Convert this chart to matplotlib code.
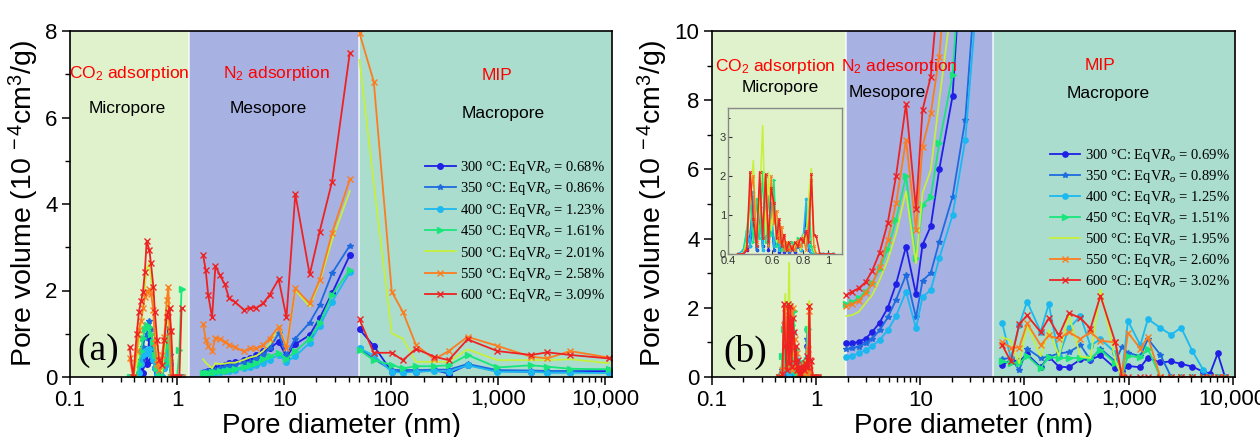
import matplotlib
matplotlib.use('Agg')
import matplotlib.pyplot as plt
from matplotlib.ticker import FixedLocator, FixedFormatter, NullFormatter, MultipleLocator, LogLocator

plt.rcParams['font.family'] = ['Liberation Sans', 'DejaVu Sans']
plt.rcParams['mathtext.fontset'] = 'custom'
plt.rcParams['mathtext.rm'] = 'Liberation Sans'
plt.rcParams['mathtext.it'] = 'Liberation Serif:italic'
plt.rcParams['mathtext.bf'] = 'Liberation Sans:bold'

# ---------------- series meta ----------------
temps = ['300', '350', '400', '450', '500', '550', '600']
ro_a = ['0.68', '0.86', '1.23', '1.61', '2.01', '2.58', '3.09']
ro_b = ['0.69', '0.89', '1.25', '1.51', '1.95', '2.60', '3.02']
colors = ['#1f1fe6', '#1e6be0', '#1cb8f0', '#19e67a', '#c6f03c', '#fb7d1f', '#ee2222']
markers = ['o', '*', 'o', '>', '', 'x', 'x']

# ---------------- panel (a) data ----------------
a_mic_x = [0.36, 0.39, 0.42, 0.44, 0.46, 0.48, 0.50, 0.52, 0.55, 0.57, 0.60, 0.62, 0.65,
           0.68, 0.72, 0.76, 0.80, 0.83, 0.85, 0.88, 0.92, 0.96, 1.00, 1.05, 1.10]
a_mic_300 = [0, 0, 0, 0.05, 0.25, 0.10, 0.60, 0.30, 0.90, 0.40, 0.70, 0.20, 0.10, 0, 0, 0.20, 0.90, 1.10, 0.30, 0, 0, 0, 0, 0, 0]
a_mic_350 = [0, 0, 0, 0.10, 0.40, 0.70, 0.90, 1.00, 1.30, 1.10, 0.70, 0.40, 0.10, 0, 0, 0.30, 0.80, 1.00, 0.50, 0, 0, 0, 0, 0, 0]
a_mic_400 = [0, 0, 0, 0.10, 0.30, 0.50, 0.60, 0.55, 0.65, 0.50, 0.40, 0.20, 0.05, 0, 0, 0.20, 0.40, 0.60, 0.30, 0, 0, 0, 0, 0, 0]
a_mic_450 = [0, 0, 0, 0.30, 0.60, 0.90, 1.10, 1.20, 1.15, 1.00, 0.80, 0.50, 0.20, 0.05, 0, 0.30, 0.70, 0.90, 0.40, 0, 0, 0, 0, 0.62, 2.03]
a_mic_500 = [0, 0, 0.30, 0.80, 1.20, 1.60, 2.10, 2.50, 2.63, 2.30, 1.70, 1.00, 0.50, 0.20, 0.10, 0.60, 1.20, 1.80, 0.90, 0, 0, 0, 0, 0, 0]
a_mic_550 = [0.43, 0, 0.60, 1.09, 1.30, 1.59, 1.85, 1.97, 2.03, 1.93, 1.55, 0.78, 0.31, 0.16, 0.50, 0.93, 1.78, 2.09, 1.07, 0, 0, 0, 0, 0, 0]
a_mic_600 = [0.70, 0, 1.00, 1.51, 1.75, 1.97, 2.43, 3.15, 2.94, 2.63, 2.09, 1.51, 0.86, 0.39, 0.28, 0.86, 1.39, 1.50, 1.59, 1.07, 0, 0, 0, 0, 1.59]

a_mes_x = [1.75, 1.85, 1.95, 2.12, 2.28, 2.50, 2.78, 3.06, 3.45, 4.22, 4.76, 5.50, 6.34, 7.31,
           8.87, 10.5, 12.7, 17.3, 21.4, 28.0, 41.0]
a_mes_300 = [0.10, 0.11, 0.13, 0.16, 0.20, 0.24, 0.28, 0.32, 0.35, 0.40, 0.43, 0.50, 0.59, 0.66, 0.82, 0.47, 0.76, 0.97, 1.36, 1.94, 2.82]
a_mes_350 = [0.12, 0.12, 0.13, 0.14, 0.17, 0.20, 0.24, 0.26, 0.28, 0.33, 0.35, 0.42, 0.51, 0.66, 1.01, 0.51, 0.89, 1.26, 1.66, 2.40, 3.04]
a_mes_400 = [0.08, 0.08, 0.08, 0.09, 0.10, 0.11, 0.13, 0.14, 0.16, 0.20, 0.23, 0.27, 0.33, 0.40, 0.51, 0.35, 0.48, 0.79, 1.18, 1.74, 2.42]
a_mes_450 = [0.10, 0.10, 0.10, 0.11, 0.12, 0.14, 0.15, 0.17, 0.19, 0.24, 0.28, 0.33, 0.41, 0.48, 0.56, 0.41, 0.59, 0.89, 1.24, 1.90, 2.48]
a_mes_500 = [0.41, 0.33, 0.28, 0.20, 0.32, 0.30, 0.31, 0.33, 0.33, 0.40, 0.45, 0.49, 0.60, 0.76, 1.18, 0.70, 2.01, 1.63, 2.20, 3.17, 4.30]
a_mes_550 = [1.23, 0.86, 0.72, 0.59, 0.91, 0.88, 0.82, 0.75, 0.69, 0.59, 0.66, 0.66, 0.74, 0.89, 1.16, 0.66, 2.05, 1.70, 2.24, 3.34, 4.57]
a_mes_600 = [2.82, 2.47, 1.90, 1.38, 2.57, 2.36, 2.15, 1.82, 1.74, 1.55, 1.60, 1.60, 1.70, 1.90, 2.26, 1.38, 4.23, 2.37, 3.36, 4.52, 7.50]

a_mac_x = [50.5, 68.6, 101, 128, 170, 252, 343, 515, 977, 2010, 2870, 4670, 10700]
a_mac_300 = [1.10, 0.72, 0.12, 0.14, 0.12, 0.16, 0.08, 0.28, 0.14, 0.12, 0.11, 0.11, 0.14]
a_mac_350 = [0.66, 0.42, 0.16, 0.17, 0.16, 0.17, 0.17, 0.30, 0.16, 0.15, 0.14, 0.14, 0.17]
a_mac_400 = [0.66, 0.50, 0.12, 0.10, 0.12, 0.14, 0.12, 0.27, 0.12, 0.12, 0.10, 0.10, 0.09]
a_mac_450 = [0.62, 0.39, 0.28, 0.20, 0.25, 0.25, 0.27, 0.51, 0.22, 0.27, 0.24, 0.19, 0.18]
a_mac_500 = [7.33, 4.48, 1.01, 0.89, 0.35, 0.35, 0.35, 0.64, 0.39, 0.39, 0.39, 0.41, 0.32]
a_mac_550 = [7.95, 6.83, 1.97, 1.51, 0.74, 0.41, 0.60, 0.93, 0.72, 0.47, 0.43, 0.60, 0.45]
a_mac_600 = [1.33, 0.56, 0.56, 0.39, 0.65, 0.47, 0.39, 0.87, 0.60, 0.51, 0.57, 0.51, 0.43]

# ---------------- panel (b) data ----------------
b_mic_x = [0.44, 0.46, 0.475, 0.49, 0.505, 0.52, 0.535, 0.55, 0.565, 0.58, 0.595, 0.61, 0.625, 0.64, 0.655, 0.67,
           0.685, 0.70, 0.72, 0.74, 0.76, 0.78, 0.80, 0.82, 0.84, 0.86, 0.88, 0.90, 0.93, 0.96, 1.00, 1.05]
b_mic_300 = [0, 0, 0.1, 0.2, 0.9, 0.1, 1.2, 0.2, 1.0, 0.1, 0.9, 0.1, 0.5, 0.05, 0.3, 0.05, 0.15, 0.05, 0.15, 0.05, 0.2, 0.1, 0.45, 0.9, 0.1, 0, 0, 0, 0, 0, 0, 0]
b_mic_350 = [0, 0, 0.2, 0.5, 1.5, 0.1, 1.0, 0.2, 1.5, 0.2, 1.1, 0.1, 0.6, 0.1, 0.4, 0.1, 0.2, 0.05, 0.2, 0.1, 0.2, 0.1, 0.4, 1.1, 0.1, 0, 0, 0, 0, 0, 0, 0]
b_mic_400 = [0, 0.1, 0.6, 0.2, 1.6, 0.2, 1.3, 0.1, 2.0, 0.3, 1.3, 0.2, 0.7, 0.1, 0.5, 0.1, 0.2, 0.1, 0.2, 0.1, 0.3, 0.1, 0.5, 1.4, 0.2, 0, 0, 0, 0, 0, 0, 0]
b_mic_450 = [0, 0, 0.6, 1.4, 0.3, 1.4, 0.4, 2.1, 0.3, 1.5, 0.5, 1.9, 0.2, 0.8, 0.1, 0.3, 0.1, 0.2, 0.3, 0.1, 0.4, 0.2, 0.3, 0.5, 1.4, 0.2, 0, 0, 0, 0, 0, 0]
b_mic_500 = [0, 0, 0.3, 1.5, 2.4, 0.2, 1.3, 3.3, 0.5, 2.1, 0.6, 1.2, 0.3, 0.9, 0.2, 0.4, 0.1, 0.3, 0.1, 0.2, 0.3, 0.1, 0.5, 0.3, 1.5, 2.2, 0.1, 0, 0, 0, 0, 0]
b_mic_550 = [0, 0, 0.2, 1.5, 2.0, 0.3, 1.8, 0.5, 2.0, 0.2, 2.0, 0.8, 1.1, 0.3, 0.7, 0.1, 0.3, 0.1, 0.2, 0.1, 0.35, 0.2, 0.4, 0.1, 0.8, 1.9, 0.2, 0, 0, 0, 0, 0]
b_mic_600 = [0, 0, 0.1, 2.1, 0.9, 0.2, 2.1, 0.4, 2.05, 0.3, 1.7, 1.3, 0.4, 0.9, 0.2, 0.5, 0.1, 0.3, 0.1, 0.3, 0.2, 0.4, 0.3, 0.6, 0.3, 2.05, 0.5, 0.45, 0, 0, 0, 0]

b_mes_x = [1.95, 2.22, 2.55, 2.98, 3.45, 4.06, 4.87, 5.85, 7.29, 9.09, 10.5, 12.6, 15.2, 20.4, 27.0, 35.0]
b_mes_300 = [0.97, 0.97, 1.02, 1.11, 1.30, 1.57, 2.00, 2.69, 3.77, 2.39, 3.82, 4.36, 6.00, 8.12, 14, 20]
b_mes_350 = [0.80, 0.83, 0.88, 0.97, 1.11, 1.35, 1.72, 2.23, 2.95, 1.72, 2.78, 3.01, 3.91, 5.21, 7.43, 12]
b_mes_400 = [0.59, 0.62, 0.68, 0.78, 0.89, 1.07, 1.35, 1.76, 2.47, 1.41, 2.32, 2.51, 3.43, 4.68, 6.85, 11]
b_mes_450 = [2.11, 2.17, 2.27, 2.47, 2.71, 3.11, 3.69, 4.54, 5.81, 3.43, 4.97, 5.21, 6.75, 8.73, 14, 20]
b_mes_500 = [1.76, 1.79, 1.88, 2.13, 2.37, 2.80, 3.38, 4.15, 5.36, 3.29, 5.32, 5.98, 8.00, 11, 16, 22]
b_mes_550 = [2.05, 2.11, 2.20, 2.42, 2.69, 3.19, 3.96, 5.02, 6.85, 4.25, 6.66, 7.62, 9.26, 14, 20, 27]
b_mes_600 = [2.37, 2.47, 2.56, 2.74, 3.07, 3.59, 4.46, 5.81, 7.89, 4.85, 7.72, 8.68, 11.5, 18, 25, 32]

b_mac_x = [61, 74, 89, 106, 143, 171, 214, 267, 345, 430, 536, 746, 863, 985, 1295, 1531,
           2010, 2560, 3190, 4090, 5220, 6050, 7160, 8420]
b_mac_300 = [0.35, 0.49, 0.45, 0.66, 0.28, 0.59, 0.30, 0.28, 0.51, 0.49, 0.63, 0.25, 0.18, 0.32, 0.28, 0.56, 0.42, 0.45, 0.38, 0.30, 0.15, 0.10, 0.68, 0]
b_mac_350 = [0.52, 0.55, 0.20, 0.82, 0.55, 0.59, 0.68, 0.72, 0.92, 0.49, 0.82, 0.45, 0.87, 0.70, 0.60, 1.10, 0.65, 0, 0, 0, 0, 0, 0, 0]
b_mac_400 = [1.57, 0.54, 1.50, 2.18, 1.31, 2.11, 0.60, 1.41, 1.76, 0.90, 1.10, 0.70, 0.10, 1.62, 0.92, 1.68, 1.42, 1.22, 1.43, 0.75, 0.20, 0, 0, 0]
b_mac_450 = [0.45, 0.40, 0.40, 0.61, 0.25, 0.59, 0.54, 0.56, 0.54, 0.54, 0.78, 0.40, 0.05, 0.61, 0.57, 0.82, 0, 0, 0, 0, 0, 0, 0, 0]
b_mac_500 = [1.15, 1.05, 0.40, 1.50, 0.60, 1.36, 0.61, 1.80, 0.59, 0.55, 2.53, 0.49, 0, 0, 0, 0, 0, 0, 0, 0, 0, 0, 0, 0]
b_mac_550 = [1.00, 0.85, 0.85, 1.55, 0.92, 1.20, 1.10, 1.30, 1.10, 1.30, 1.05, 1.00, 0.05, 1.28, 0.82, 1.16, 0, 0, 0, 0, 0, 0, 0, 0]
b_mac_600 = [0.93, 0.45, 1.53, 1.78, 1.30, 1.70, 1.20, 1.85, 1.70, 1.40, 2.35, 1.00, 0, 0, 0, 0, 0, 0, 0, 0, 0, 0, 0, 0]

a_mic = [a_mic_300, a_mic_350, a_mic_400, a_mic_450, a_mic_500, a_mic_550, a_mic_600]
a_mes = [a_mes_300, a_mes_350, a_mes_400, a_mes_450, a_mes_500, a_mes_550, a_mes_600]
a_mac = [a_mac_300, a_mac_350, a_mac_400, a_mac_450, a_mac_500, a_mac_550, a_mac_600]
b_mic = [b_mic_300, b_mic_350, b_mic_400, b_mic_450, b_mic_500, b_mic_550, b_mic_600]
b_mes = [b_mes_300, b_mes_350, b_mes_400, b_mes_450, b_mes_500, b_mes_550, b_mes_600]
b_mac = [b_mac_300, b_mac_350, b_mac_400, b_mac_450, b_mac_500, b_mac_550, b_mac_600]

xtick_vals = [0.1, 1, 10, 100, 1000, 10000]
xtick_lbls = ['0.1', '1', '10', '100', '1,000', '10,000']

C_MIC = '#dff2cc'
C_MES = '#a7b2e2'
C_MAC = '#aaddcd'

W, H = 1260, 437
fig = plt.figure(figsize=(W / 100, H / 100), dpi=100)
fig.patch.set_facecolor('white')


def px_axes(l, r, t, b):
    return fig.add_axes([l / W, 1 - b / H, (r - l) / W, (b - t) / H])


def style_main(ax, xmax, ymax, bnd1, bnd2):
    ax.set_xscale('log')
    ax.set_xlim(0.1, xmax)
    ax.set_ylim(0, ymax)
    ax.axvspan(0.1, bnd1, color=C_MIC, zorder=0, lw=0)
    ax.axvspan(bnd1, bnd2, color=C_MES, zorder=0, lw=0)
    ax.axvspan(bnd2, xmax, color=C_MAC, zorder=0, lw=0)
    ax.axvline(bnd1, color='white', lw=1.2, alpha=0.8, zorder=0.5)
    ax.axvline(bnd2, color='white', lw=1.2, alpha=0.8, zorder=0.5)
    ax.xaxis.set_major_locator(FixedLocator(xtick_vals))
    ax.xaxis.set_major_formatter(FixedFormatter(xtick_lbls))
    ax.xaxis.set_minor_locator(LogLocator(base=10, subs=range(2, 10), numticks=20))
    ax.xaxis.set_minor_formatter(NullFormatter())
    ax.yaxis.set_major_locator(MultipleLocator(2))
    ax.yaxis.set_minor_locator(MultipleLocator(1))
    ax.tick_params(which='major', direction='out', length=6, width=1.1, labelsize=16, pad=3)
    ax.tick_params(which='minor', direction='out', length=3.5, width=1.0)
    for s in ax.spines.values():
        s.set_linewidth(1.2)
    ax.set_xlabel('Pore diameter (nm)', fontsize=20, labelpad=2)
    ax.set_ylabel(r'Pore volume (10$^{\ -4}$cm$^{3}$/g)', fontsize=20.5, labelpad=4)


def plot_series(ax, segs, ro, lw=1.3, ms=4):
    handles = []
    for i in range(7):
        h = None
        for xs, ys_all in segs:
            ln, = ax.plot(xs, ys_all[i], color=colors[i], marker=markers[i] if markers[i] else None,
                          ms=ms, mew=1.0, lw=lw, zorder=2 + i * 0.01)
            if h is None:
                h = ln
        h.set_label(temps[i] + r' °C: EqV$R_o$ = ' + ro[i] + '%')
        handles.append(h)
    return handles

# ---------------- panel (a) ----------------
axA = px_axes(70, 612, 31, 377)
style_main(axA, 11500, 8, 1.29, 50)
hA = plot_series(axA, [(a_mic_x, a_mic), (a_mes_x, a_mes), (a_mac_x, a_mac)], ro_a)
legA = axA.legend(handles=hA, loc='upper left', bbox_to_anchor=(0.655, 0.63), frameon=False,
                  prop={'family': 'Liberation Serif', 'size': 10.5}, handlelength=2.1,
                  handletextpad=0.3, labelspacing=0.3, borderpad=0, borderaxespad=0)
tk = dict(transform=axA.transAxes, ha='center', va='center', fontsize=12.5)
axA.text(0.109, 0.876, r'CO$_2$ adsorption', color='red', **tk)
axA.text(0.105, 0.777, 'Micropore', color='black', **tk)
axA.text(0.380, 0.876, r'N$_2$ adsorption', color='red', **tk)
axA.text(0.365, 0.777, 'Mesopore', color='black', **tk)
axA.text(0.788, 0.870, 'MIP', color='red', **tk)
axA.text(0.799, 0.763, 'Macropore', color='black', **tk)
axA.text(0.052, 0.075, '(a)', transform=axA.transAxes, ha='center', va='center',
         fontsize=27, family='Liberation Serif')

# ---------------- panel (b) ----------------
axB = px_axes(712, 1235, 31, 377)
style_main(axB, 10500, 10, 1.93, 50)
hB = plot_series(axB, [(b_mic_x, b_mic), (b_mes_x, b_mes), (b_mac_x, b_mac)], ro_b, ms=3.8)
legB = axB.legend(handles=hB, loc='upper left', bbox_to_anchor=(0.646, 0.665), frameon=False,
                  prop={'family': 'Liberation Serif', 'size': 10.5}, handlelength=2.1,
                  handletextpad=0.3, labelspacing=0.28, borderpad=0, borderaxespad=0)
tk = dict(transform=axB.transAxes, ha='center', va='center', fontsize=12.5)
axB.text(0.120, 0.896, r'CO$_2$ adsorption', color='red', **tk)
axB.text(0.130, 0.838, 'Micropore', color='black', **tk)
axB.text(0.358, 0.896, r'N$_2$ adesorption', color='red', **tk)
axB.text(0.335, 0.821, 'Mesopore', color='black', **tk)
axB.text(0.742, 0.899, 'MIP', color='red', **tk)
axB.text(0.757, 0.818, 'Macropore', color='black', **tk)
axB.text(0.063, 0.072, '(b)', transform=axB.transAxes, ha='center', va='center',
         fontsize=27, family='Liberation Serif')

# ---------------- inset ----------------
axI = px_axes(728, 842, 108, 254)
axI.set_facecolor(C_MIC)
axI.set_xscale('log')
axI.set_xlim(0.4, 1.14)
axI.set_ylim(0, 3.75)
for i in range(7):
    axI.plot(b_mic_x, b_mic[i], color=colors[i], marker=markers[i] if markers[i] else None,
             ms=2, mew=0.6, lw=1.1)
axI.xaxis.set_major_locator(FixedLocator([0.4, 0.6, 0.8, 1.0]))
axI.xaxis.set_major_formatter(FixedFormatter(['0.4', '0.6', '0.8', '1']))
axI.xaxis.set_minor_locator(FixedLocator([]))
axI.yaxis.set_major_locator(FixedLocator([0, 1, 2, 3]))
axI.yaxis.set_major_formatter(FixedFormatter(['0', '1', '2', '3']))
axI.yaxis.set_minor_locator(MultipleLocator(0.5))
axI.tick_params(which='major', direction='in', length=3, width=0.8, labelsize=8, pad=1.5, colors='#333333')
axI.tick_params(which='minor', direction='in', length=1.5, width=0.6)
for s in axI.spines.values():
    s.set_color('#888888')
    s.set_linewidth(1.0)

fig.savefig('out.png', dpi=100)
